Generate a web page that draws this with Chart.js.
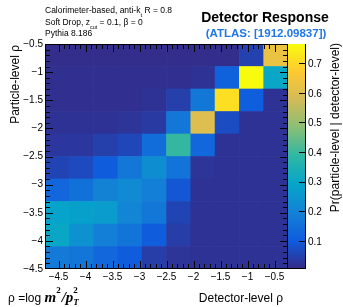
<!DOCTYPE html>
<html>
<head>
<meta charset="utf-8">
<script src="https://cdn.jsdelivr.net/npm/chart.js@4.4.1/dist/chart.umd.min.js"></script>
<style>
  html, body { margin: 0; padding: 0; background: #fff; }
  canvas { display: block; }
</style>
</head>
<body>
<canvas id="response" width="343" height="307"></canvas>
<script>
// bin edges in rho = log(m^2/pT^2)
const X_EDGES = [-4.5, -4.1, -3.7, -3.3, -2.9, -2.5, -2.1, -1.7, -1.3, -0.9, -0.5];
const Y_EDGES = [-4.5, -4.1, -3.7, -3.3, -2.9, -2.5, -2.1, -1.7, -1.3, -0.9, -0.5];

// Pr(particle | detector), one row per particle-level bin, bottom row first
const PROB = [
    [0.18, 0.165, 0.13, 0.10, 0.04, 0.025, 0.02, 0.02, 0.02, 0.02],
    [0.30, 0.24, 0.19, 0.16, 0.10, 0.04, 0.02, 0.02, 0.02, 0.02],
    [0.29, 0.28, 0.27, 0.21, 0.17, 0.055, 0.02, 0.02, 0.02, 0.02],
    [0.13, 0.155, 0.20, 0.22, 0.19, 0.09, 0.02, 0.02, 0.02, 0.02],
    [0.055, 0.065, 0.10, 0.17, 0.23, 0.16, 0.025, 0.02, 0.02, 0.02],
    [0.03, 0.03, 0.045, 0.06, 0.145, 0.39, 0.13, 0.02, 0.02, 0.02],
    [0.02, 0.02, 0.02, 0.025, 0.035, 0.17, 0.60, 0.07, 0.02, 0.02],
    [0.015, 0.015, 0.015, 0.015, 0.02, 0.045, 0.17, 0.71, 0.105, 0.02],
    [0.015, 0.015, 0.015, 0.015, 0.015, 0.015, 0.02, 0.115, 0.765, 0.30],
    [0.01, 0.01, 0.01, 0.01, 0.01, 0.01, 0.01, 0.01, 0.05, 0.63],
];

const X_TICKS = [-4.5, -4, -3.5, -3, -2.5, -2, -1.5, -1, -0.5];
const Y_TICKS = [-4.5, -4, -3.5, -3, -2.5, -2, -1.5, -1, -0.5];
const Z_TICKS = [0.1, 0.2, 0.3, 0.4, 0.5, 0.6, 0.7];
const Z_MIN = 0.005;
const Z_MAX = 0.765;

// ROOT kBird palette
const BIRD = [
    [0.2082, 0.1664, 0.5293], [0.0592, 0.3599, 0.8684], [0.0780, 0.5041, 0.8385],
    [0.0232, 0.6419, 0.7914], [0.1802, 0.7178, 0.6425], [0.5301, 0.7492, 0.4662],
    [0.8186, 0.7328, 0.3499], [0.9956, 0.7862, 0.1968], [0.9764, 0.9832, 0.0539],
];

const birdColor = (t) => {
    t = Math.min(1, Math.max(0, t));
    const pos = t * (BIRD.length - 1);
    const i = Math.min(BIRD.length - 2, Math.floor(pos));
    const f = pos - i;
    const c = BIRD[i].map((a, k) => Math.round(255 * (a + (BIRD[i + 1][k] - a) * f)));
    return `rgb(${c[0]}, ${c[1]}, ${c[2]})`;
};
const colorFor = (v) => birdColor((v - Z_MIN) / (Z_MAX - Z_MIN));

const SANS = "'Liberation Sans', Arial, Helvetica, sans-serif";
const minus = (v) => (v < 0 ? '\u2212' : '') + Math.abs(v);

const binLabels = X_EDGES.slice(0, -1).map((e, i) => ((e + X_EDGES[i + 1]) / 2).toFixed(1));

const datasets = PROB.map((row, j) => ({
    data: row.map(() => [Y_EDGES[j], Y_EDGES[j + 1]]),
    backgroundColor: row.map(colorFor),
    borderWidth: 0,
    barPercentage: 1,
    categoryPercentage: 1,
    grouped: false,
    xAxisID: 'x',
    yAxisID: 'y',
}));

const minorTicks = (major) => {
    const out = [];
    for (let i = 0; i < major.length - 1; i++) {
        const step = (major[i + 1] - major[i]) / 5;
        for (let k = 0; k < 5; k++) out.push({ v: major[i] + k * step, major: k === 0 });
    }
    out.push({ v: major[major.length - 1], major: true });
    return out;
};

// 1px lines as filled rects (crisp, no anti-aliasing)
const hline = (ctx, x0, x1, y) => ctx.fillRect(Math.min(x0, x1), y, Math.abs(x1 - x0) + 1, 1);
const vline = (ctx, x, y0, y1) => ctx.fillRect(x, Math.min(y0, y1), 1, Math.abs(y1 - y0) + 1);

const rootFrame = {
    id: 'rootFrame',
    afterDraw(chart) {
        const { ctx, chartArea: a, scales } = chart;
        const xs = scales.xd, ys = scales.y, zs = scales.z;
        ctx.save();

        // colour bar
        const cbL = Math.round(a.right), cbR = cbL + 17;
        const g = ctx.createLinearGradient(0, zs.getPixelForValue(Z_MIN), 0, zs.getPixelForValue(Z_MAX));
        BIRD.forEach((c, i) => g.addColorStop(i / (BIRD.length - 1), birdColor(i / (BIRD.length - 1))));
        ctx.fillStyle = g;
        ctx.fillRect(cbL, a.top, cbR - cbL, a.bottom - a.top);

        // frame with inward ticks on all four sides
        ctx.fillStyle = '#000';
        const L = Math.round(a.left), R = Math.round(a.right) - 1;
        const T = Math.round(a.top), B = Math.round(a.bottom) - 1;
        minorTicks(X_TICKS).forEach(({ v, major }) => {
            const px = Math.min(R, Math.round(xs.getPixelForValue(v)));
            const len = major ? 7 : 4;
            vline(ctx, px, B, B - len);
            vline(ctx, px, T, T + len);
        });
        minorTicks(Y_TICKS).forEach(({ v, major }) => {
            const py = Math.min(B, Math.round(ys.getPixelForValue(v)));
            const len = major ? 7 : 4;
            hline(ctx, L, L + len, py);
            hline(ctx, R, R - len, py);
        });
        hline(ctx, L, R, T);
        hline(ctx, L, R, B);
        vline(ctx, L, T, B);
        vline(ctx, R, T, B);

        vline(ctx, cbR, T, B);
        hline(ctx, R, cbR, B);
        Z_TICKS.forEach((v) => {
            const py = Math.round(zs.getPixelForValue(v));
            hline(ctx, cbR - 6, cbR, py);
        });

        ctx.font = `10px ${SANS}`;
        ctx.textAlign = 'left';
        ctx.textBaseline = 'middle';
        Z_TICKS.forEach((v) => ctx.fillText(v.toFixed(1), cbR + 3, zs.getPixelForValue(v) + 1));

        ctx.textBaseline = 'alphabetic';

        // axis titles, ROOT style (aligned to the axis end)
        ctx.font = `12px ${SANS}`;
        ctx.textAlign = 'right';
        ctx.fillText('Detector-level \u03c1', a.right - 5, 302);

        ctx.save();
        ctx.translate(19, a.top + 1);
        ctx.rotate(-Math.PI / 2);
        ctx.fillText('Particle-level \u03c1', 0, 0);
        ctx.restore();

        ctx.save();
        ctx.translate(339, a.top - 1);
        ctx.rotate(-Math.PI / 2);
        ctx.fillText('Pr(particle-level | detector-level)', 0, 0);
        ctx.restore();

        // rho definition, bottom left
        ctx.textAlign = 'left';
        let x = 8;
        const put = (txt, font, y) => {
            ctx.font = font;
            ctx.fillText(txt, x, y);
            x += ctx.measureText(txt).width;
        };
        put('\u03c1 =log ', `12px ${SANS}`, 302);
        const math = "'Liberation Serif', 'Times New Roman', serif";
        put('m', `bold italic 15px ${math}`, 302);
        put('2', `bold 9px ${math}`, 293);
        x += 1;
        put('/', `bold italic 15px ${math}`, 302);
        put('p', `bold italic 15px ${math}`, 302);
        const px1 = x;
        put('2', `bold 9px ${math}`, 293);
        x = px1;
        put('T', `bold italic 9px ${math}`, 305);

        // sample description, top left
        x = 45;
        put('Calorimeter-based, anti-k', `8.5px ${SANS}`, 13);
        put('t', `6px ${SANS}`, 17);
        put(' R = 0.8', `8.5px ${SANS}`, 13);
        x = 45;
        put('Soft Drop, z', `8.5px ${SANS}`, 25);
        put('cut', `5.5px ${SANS}`, 29);
        put(' = 0.1, \u03b2 = 0', `8.5px ${SANS}`, 25);
        x = 45;
        put('Pythia 8.186', `8.5px ${SANS}`, 36);

        // headline
        ctx.textAlign = 'center';
        ctx.font = `bold 14px ${SANS}`;
        ctx.fillText('Detector Response', 265, 22);
        ctx.fillStyle = '#1f77e8';
        ctx.font = `bold 11.5px ${SANS}`;
        ctx.fillText('(ATLAS: [1912.09837])', 266, 37);
        ctx.restore();
    },
};

new Chart(document.getElementById('response'), {
    type: 'bar',
    data: { labels: binLabels, datasets },
    options: {
        responsive: false,
        animation: false,
        devicePixelRatio: 1,
        layout: { padding: { left: 0, top: 44, right: 55, bottom: 0 } },
        plugins: { legend: { display: false }, tooltip: { enabled: false } },
        scales: {
            x: { type: 'category', offset: true, display: false },
            xd: {
                type: 'linear',
                axis: 'x',
                position: 'bottom',
                min: -4.5,
                max: -0.5,
                afterBuildTicks: (s) => { s.ticks = X_TICKS.map((value) => ({ value })); },
                afterFit: (s) => { s.height = 38; },
                grid: { display: false, drawTicks: false },
                border: { display: false },
                ticks: {
                    color: '#000',
                    font: { family: SANS, size: 10 },
                    padding: 2,
                    maxRotation: 0,
                    autoSkip: false,
                    callback: (v) => minus(v),
                },
            },
            y: {
                type: 'linear',
                position: 'left',
                min: -4.5,
                max: -0.5,
                stacked: false,
                afterBuildTicks: (s) => { s.ticks = Y_TICKS.map((value) => ({ value })); },
                afterFit: (s) => { s.width = 45; },
                grid: { display: false, drawTicks: false },
                border: { display: false },
                ticks: {
                    color: '#000',
                    font: { family: SANS, size: 10 },
                    padding: 2,
                    autoSkip: false,
                    callback: (v) => minus(v),
                },
            },
            z: { type: 'linear', position: 'right', min: Z_MIN, max: Z_MAX, display: false },
        },
    },
    plugins: [rootFrame],
});
</script>
</body>
</html>
